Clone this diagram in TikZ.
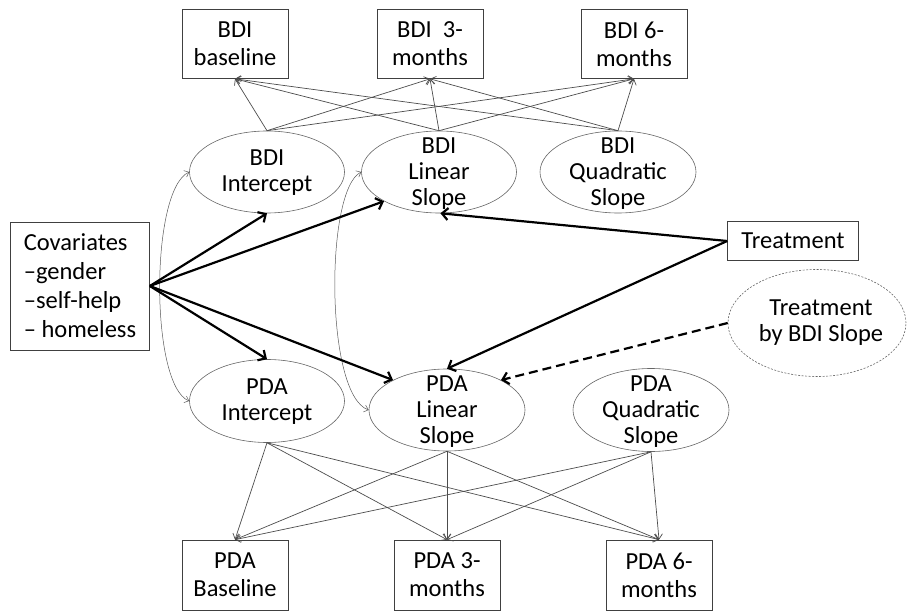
\documentclass[tikz,border=0pt]{standalone}
\usepackage{fontspec}
\setmainfont{Carlito}
\usetikzlibrary{shapes.geometric,arrows.meta}
\begin{document}
\begin{tikzpicture}[x=1pt,y=-1pt,
  every node/.style={font=\fontsize{24.5}{28}\selectfont},
  boxnode/.style={draw=black!75, line width=0.7pt, rectangle, align=center, inner sep=2pt},
  ellnode/.style={draw=black!60, line width=0.6pt, ellipse, inner sep=0pt},
  txtnode/.style={align=center, inner sep=0pt, font=\fontsize{24.5}{26}\selectfont},
  thin arrow/.style={draw=black!70, line width=0.7pt, -{Straight Barb[length=5pt,width=8pt]}},
  thick arrow/.style={draw=black, line width=2.2pt, -{Straight Barb[length=6pt,width=12pt]}},
  cov arrow/.style={draw=black!65, line width=0.5pt, {Straight Barb[length=4pt,width=7pt]}-{Straight Barb[length=4pt,width=7pt]}}
]
\useasboundingbox (0,0) rectangle (908,612);
% top boxes
\node[boxnode, minimum width=106pt, minimum height=69pt] (b0) at (235,44) {BDI\\baseline};
\node[boxnode, minimum width=106pt, minimum height=69pt] (b3) at (430,44) {BDI~~3-\\months};
\node[boxnode, minimum width=106pt, minimum height=69pt] (b6) at (634,44) {BDI 6-\\months};
% BDI ellipses
\node[ellnode, minimum width=155pt, minimum height=82pt] (bi) at (267,172) {};
\node[txtnode] (bit) at (267,173) {BDI\\Intercept};
\node[ellnode, minimum width=155pt, minimum height=82pt] (bl) at (439,172) {};
\node[txtnode] (blt) at (439,174) {BDI\\Linear\\Slope};
\node[ellnode, minimum width=156pt, minimum height=82pt] (bq) at (618,172) {};
\node[txtnode] (bqt) at (618,174) {BDI\\Quadratic\\Slope};
% covariates, treatment
\node[boxnode, minimum width=139pt, minimum height=128pt, align=left, inner sep=6pt] (cov) at (80,286) {Covariates\\[1pt]--gender\\[1pt]--self-help\\[1pt]-- homeless};
\node[boxnode, minimum width=131pt, minimum height=39pt] (tr) at (793,241) {Treatment};
\node[draw=black!60, line width=0.6pt, dashed, dash pattern=on 2pt off 1.5pt, ellipse, minimum width=178pt, minimum height=107pt, inner sep=0pt] (tbs) at (817,323) {};
\node[txtnode] (tbst) at (821,323) {Treatment\\by BDI Slope};
% PDA ellipses
\node[ellnode, minimum width=155pt, minimum height=83pt] (pi) at (267,401) {};
\node[txtnode] (pit) at (267,402) {PDA\\Intercept};
\node[ellnode, minimum width=156pt, minimum height=82pt] (pl) at (447,410) {};
\node[txtnode] (plt) at (447,412) {PDA\\Linear\\Slope};
\node[ellnode, minimum width=156pt, minimum height=83pt] (pq) at (651,410) {};
\node[txtnode] (pqt) at (651,412) {PDA\\Quadratic\\Slope};
% bottom boxes
\node[boxnode, minimum width=106pt, minimum height=70pt] (p0) at (235,575) {PDA\\Baseline};
\node[boxnode, minimum width=106pt, minimum height=70pt] (p3) at (447,575) {PDA 3-\\months};
\node[boxnode, minimum width=106pt, minimum height=70pt] (p6) at (659,575) {PDA 6-\\months};
% thin arrows top
\foreach \s in {bi,bl,bq}{
  \foreach \t in {b0,b3,b6}{
    \draw[thin arrow] (\s.north) -- (\t.south);
  }
}
% thin arrows bottom
\foreach \s in {pi,pl,pq}{
  \foreach \t in {p0,p3,p6}{
    \draw[thin arrow] (\s.south) -- (\t.north);
  }
}
% covariance curves
\draw[cov arrow] (bi.west) .. controls (150,190) and (150,385) .. (pi.west);
\draw[cov arrow] (bl.west) .. controls (325,190) and (325,395) .. (pl.west);
% thick arrows
\draw[thick arrow] (cov.east) -- (bi.south);
\draw[thick arrow] (cov.east) -- (bl.208);
\draw[thick arrow] (cov.east) -- (pi.north);
\draw[thick arrow] (cov.east) -- (pl.151);
\draw[thick arrow] (tr.west) -- (bl.-88);
\draw[thick arrow] (tr.west) -- (pl.north);
\draw[thick arrow, dashed, dash pattern=on 9pt off 5pt] (tbs.west) -- (pl.29);
\end{tikzpicture}
\end{document}
